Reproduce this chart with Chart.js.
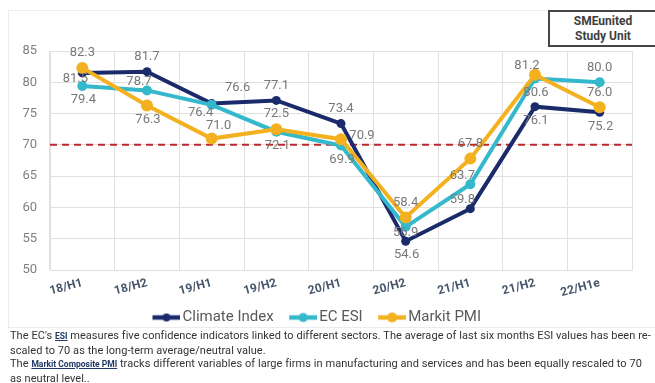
<!DOCTYPE html>
<html>
<head>
<meta charset="utf-8">
<script src="https://cdn.jsdelivr.net/npm/chart.js@4.4.1/dist/chart.umd.min.js"></script>
<style>
  html, body { margin: 0; padding: 0; background: #fff; width: 655px; height: 383px; overflow: hidden; font-family: Roboto, "Open Sans", sans-serif; }
  #frame { position: absolute; left: 8px; top: 10px; width: 680px; height: 318px; border: 1px solid #ececec; box-sizing: border-box; }
  #wrap { position: absolute; left: 0; top: 0; width: 655px; height: 335px; }
  #badge { position: absolute; left: 548px; top: 10px; width: 110px; height: 37px; border: 2px solid #454545; box-sizing: border-box; background: #fff; color: #404040; font: bold 12px/15px Roboto, sans-serif; text-align: center; padding-top: 2px; }
  #notes { position: absolute; left: 10px; top: 329px; width: 720px; font: 11px/13.5px Roboto, sans-serif; letter-spacing: 0.05px; color: #333; white-space: nowrap; }
  #notes a { color: #1f3864; font-size: 8.5px; font-weight: bold; text-decoration: underline; letter-spacing: 0; }
</style>
</head>
<body>
<div id="frame"></div>
<div id="wrap"><canvas id="chart" width="655" height="335"></canvas></div>
<div id="badge">SMEunited<br>Study Unit</div>
<div id="notes">
  <div>The EC's <a>ESI</a> measures five confidence indicators linked to different sectors. The average of last six months ESI values has been re-</div>
  <div>scaled to 70 as the long-term average/neutral value.</div>
  <div>The <a>Markit Composite PMI</a> tracks different variables of large firms in manufacturing and services and has been equally rescaled to 70</div>
  <div>as neutral level..</div>
</div>
<script>
// Half-year periods
const categories = ['18/H1', '18/H2', '19/H1', '19/H2', '20/H1', '20/H2', '21/H1', '21/H2', '22/H1e'];

// Series values
const climateIndex = [81.5, 81.7, 76.6, 77.1, 73.4, 54.6, 59.8, 76.1, 75.2];
const ecEsi        = [79.4, 78.7, 76.4, 72.1, 69.9, 56.9, 63.7, 80.6, 80.0];
const markitPmi    = [82.3, 76.3, 71.0, 72.5, 70.9, 58.4, 67.8, 81.2, 76.0];

// Value axis
const yTicks = [50, 55, 60, 65, 70, 75, 80, 85];
const neutralLevel = 70;

// Where each value label sits around its point
const climateLabelPos = ['C', 'N', 'NE', 'N', 'N', 'S', 'NW', 'S', 'S'];
const esiLabelPos     = ['S', 'NW', 'SW', 'S', 'S', 'SC', 'NW', 'S', 'N'];
const pmiLabelPos     = ['N', 'S', 'NNE', 'N', 'E', 'N', 'N', 'NW', 'N'];
const labelOffsets = {
  N: [0, -15], S: [1, 14], NW: [-8, -9], SW: [-11, 8], NE: [26, -16],
  NNE: [7, -13], E: [21, -3], C: [-7, 6], SC: [0, 6]
};

const colors = { climate: '#1b2a6b', esi: '#33b8cc', pmi: '#f3b11f' };

// Legend swatch: a thick line with a dot, right-aligned in its canvas
function legendSwatch(color, r) {
  const c = document.createElement('canvas');
  c.width = 35; c.height = 12;
  const g = c.getContext('2d');
  g.strokeStyle = color; g.lineWidth = 4.5;
  g.beginPath(); g.moveTo(7, 6); g.lineTo(35, 6); g.stroke();
  g.fillStyle = color;
  g.beginPath(); g.arc(21, 6, r, 0, Math.PI * 2); g.fill();
  return c;
}
const swatches = [legendSwatch(colors.climate, 4), legendSwatch(colors.esi, 4.5), legendSwatch(colors.pmi, 5)];

// Dashed neutral line at 70 across the plot area
const neutralLine = {
  id: 'neutralLine',
  beforeDatasetsDraw(chart) {
    const { ctx, chartArea, scales } = chart;
    const y = scales.y.getPixelForValue(neutralLevel);
    ctx.save();
    ctx.strokeStyle = '#b82a2a';
    ctx.lineWidth = 2;
    ctx.setLineDash([7, 5]);
    ctx.beginPath();
    ctx.moveTo(chartArea.left, y);
    ctx.lineTo(chartArea.right, y);
    ctx.stroke();
    ctx.restore();
  }
};

// Value labels next to the points
const valueLabels = {
  id: 'valueLabels',
  afterDatasetsDraw(chart) {
    const { ctx } = chart;
    const placement = [climateLabelPos, esiLabelPos, pmiLabelPos];
    ctx.save();
    ctx.font = '13px Roboto, sans-serif';
    ctx.fillStyle = '#787878';
    ctx.textAlign = 'center';
    ctx.textBaseline = 'middle';
    chart.data.datasets.forEach((ds, di) => {
      const meta = chart.getDatasetMeta(di);
      meta.data.forEach((pt, i) => {
        const off = labelOffsets[placement[di][i]];
        ctx.fillText(ds.data[i].toFixed(1), pt.x + off[0], pt.y + off[1]);
      });
    });
    ctx.restore();
  }
};

const lineStyle = (color, r, order) => ({
  borderColor: color, backgroundColor: color, pointBackgroundColor: color,
  pointBorderWidth: 0, pointRadius: r, pointHoverRadius: r,
  borderWidth: 4, tension: 0, order: order
});

new Chart(document.getElementById('chart'), {
  type: 'line',
  data: {
    labels: categories,
    datasets: [
      Object.assign({ label: 'Climate Index', data: climateIndex }, lineStyle(colors.climate, 4.5, 3)),
      Object.assign({ label: 'EC ESI', data: ecEsi }, lineStyle(colors.esi, 5, 2)),
      Object.assign({ label: 'Markit PMI', data: markitPmi }, lineStyle(colors.pmi, 6, 1))
    ]
  },
  options: {
    responsive: false,
    animation: false,
    events: [],
    layout: { padding: { top: 51, right: 23, left: 0, bottom: 0 } },
    scales: {
      x: {
        type: 'category',
        offset: true,
        grid: { offset: true, color: '#e0e0e0', drawTicks: false },
        border: { color: '#e0e0e0' },
        ticks: {
          color: '#44546a', font: { family: 'Roboto', size: 12, weight: 'bold' },
          minRotation: 15, maxRotation: 15, padding: 6, autoSkip: false
        },
        afterFit(s) { s.height = 26; }
      },
      y: {
        min: yTicks[0], max: yTicks[yTicks.length - 1],
        afterBuildTicks(s) { s.ticks = yTicks.map(v => ({ value: v })); },
        grid: { color: '#e0e0e0', drawTicks: false },
        border: { color: '#e0e0e0' },
        ticks: { color: '#808080', font: { family: 'Roboto', size: 13 }, padding: 13 },
        afterFit(s) { s.width = 50; }
      }
    },
    plugins: {
      tooltip: { enabled: false },
      legend: {
        position: 'bottom',
        labels: {
          usePointStyle: true,
          pointStyleWidth: 24,
          padding: 14,
          color: '#595959',
          font: { family: 'Roboto', size: 15 },
          sort: (a, b) => a.datasetIndex - b.datasetIndex,
          generateLabels(chart) {
            const items = Chart.defaults.plugins.legend.labels.generateLabels(chart);
            items.forEach(it => { it.pointStyle = swatches[it.datasetIndex]; });
            return items;
          }
        }
      }
    }
  },
  plugins: [neutralLine, valueLabels]
});
</script>
</body>
</html>
